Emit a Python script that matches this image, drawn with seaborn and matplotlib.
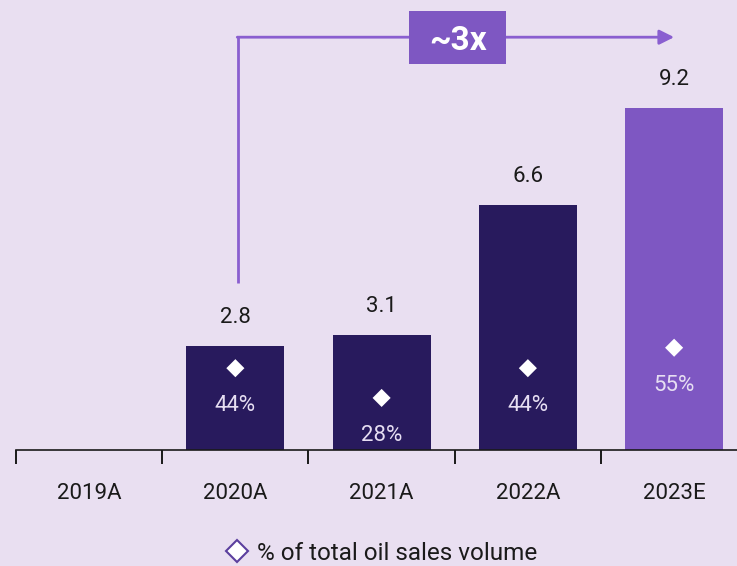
import numpy as np
import pandas as pd
import matplotlib.pyplot as plt
import seaborn as sns
from matplotlib.lines import Line2D
from matplotlib.patches import Rectangle


# =========================
# Data
# =========================

years = ["2019A", "2020A", "2021A", "2022A", "2023E"]
sales = [np.nan, 2.8, 3.1, 6.6, 9.2]
sales_labels = ["", "2.8", "3.1", "6.6", "9.2"]
oil_share = [np.nan, 44, 28, 44, 55]
share_labels = ["", "44%", "28%", "44%", "55%"]

growth_label = "~3x"
legend_label = "% of total oil sales volume"

df = pd.DataFrame({
    "year": years,
    "sales": sales,
    "share": oil_share,
})


# =========================
# Style
# =========================

DARK = "#281a5d"
PURPLE = "#7e57c2"
ARROW = "#8a5fd0"
BG = "#e9dff1"
TEXT = "#1a1a1a"

palette = {
    "2019A": DARK,
    "2020A": DARK,
    "2021A": DARK,
    "2022A": DARK,
    "2023E": PURPLE,
}

sns.set_style("white")
plt.rcParams["font.family"] = ["Roboto", "DejaVu Sans"]


# =========================
# Figure
# =========================

fig = plt.figure(figsize=(7.37, 5.66), dpi=100, facecolor=BG)

ax = fig.add_axes([16 / 737, 1 - 450 / 566, 1 - 16 / 737, 450 / 566])
ax.set_facecolor("none")

sns.barplot(
    data=df,
    x="year",
    y="sales",
    hue="year",
    palette=palette,
    width=0.67,
    legend=False,
    saturation=1,
    linewidth=0,
    ax=ax,
)

ax.set_xlim(-0.5, 4.43)
ax.set_ylim(0, 12.1)

# value labels on top of bars
for i, (v, lab) in enumerate(zip(sales, sales_labels)):
    if np.isnan(v):
        continue
    ax.annotate(
        lab,
        xy=(i, v),
        xytext=(0, 20.5),
        textcoords="offset points",
        ha="center",
        va="center",
        fontsize=16,
        color=TEXT,
    )


# =========================
# Share diamonds (secondary axis)
# =========================

ax2 = ax.twinx()
ax2.set_ylim(0, 242)

sns.scatterplot(
    data=df,
    x="year",
    y="share",
    marker="D",
    s=85,
    color="white",
    edgecolor="none",
    ax=ax2,
    zorder=5,
)

for i, (p, lab) in enumerate(zip(oil_share, share_labels)):
    if np.isnan(p):
        continue
    ax2.annotate(
        lab,
        xy=(i, p),
        xytext=(0, -27),
        textcoords="offset points",
        ha="center",
        va="center",
        fontsize=16,
        color="#e6def2",
    )

ax2.set_xlim(-0.5, 4.43)
ax2.axis("off")


# =========================
# Axis
# =========================

for side in ["top", "right", "left"]:
    ax.spines[side].set_visible(False)

ax.spines["bottom"].set_color(TEXT)
ax.spines["bottom"].set_linewidth(1.2)

ax.set_yticks([])
ax.set_xlabel("")
ax.set_ylabel("")

ax.set_xticks(range(len(years)))
ax.set_xticklabels(years, fontsize=16, color=TEXT)
ax.set_xticks(np.arange(-0.5, 4.0, 1.0), minor=True)
ax.tick_params(axis="x", which="major", length=0, pad=24, bottom=True)
ax.tick_params(axis="x", which="minor", length=10, width=1.4, color=TEXT,
               direction="out", bottom=True)


# =========================
# Growth arrow
# =========================

ax.plot([1.02, 1.02], [4.49, 11.1], color=ARROW, lw=2, solid_capstyle="butt")
ax.annotate(
    "",
    xy=(4.0, 11.1),
    xytext=(1.02 - 0.007, 11.1),
    arrowprops=dict(arrowstyle="-|>", color=ARROW, lw=2, mutation_scale=22,
                    shrinkA=0, shrinkB=0),
)
ax.add_patch(Rectangle((2.52 - 0.33, 11.1 - 0.715), 0.66, 1.43,
                       fc=PURPLE, ec="none", zorder=6))
ax.text(
    2.52, 11.1, growth_label,
    ha="center", va="center_baseline",
    fontsize=24, fontweight="bold", color="white",
    zorder=7,
)


# =========================
# Legend
# =========================

handle = Line2D([], [], marker="D", ls="", ms=11, mfc="white",
                mec="#5b3f9e", mew=1.5)
fig.legend(
    handles=[handle],
    labels=[legend_label],
    loc="center",
    bbox_to_anchor=(381 / 737, 1 - 553 / 566),
    frameon=False,
    fontsize=17.5,
    handletextpad=0.3,
    handlelength=1.0,
    labelcolor=TEXT,
)

plt.savefig("out.png", dpi=100, facecolor=BG)
